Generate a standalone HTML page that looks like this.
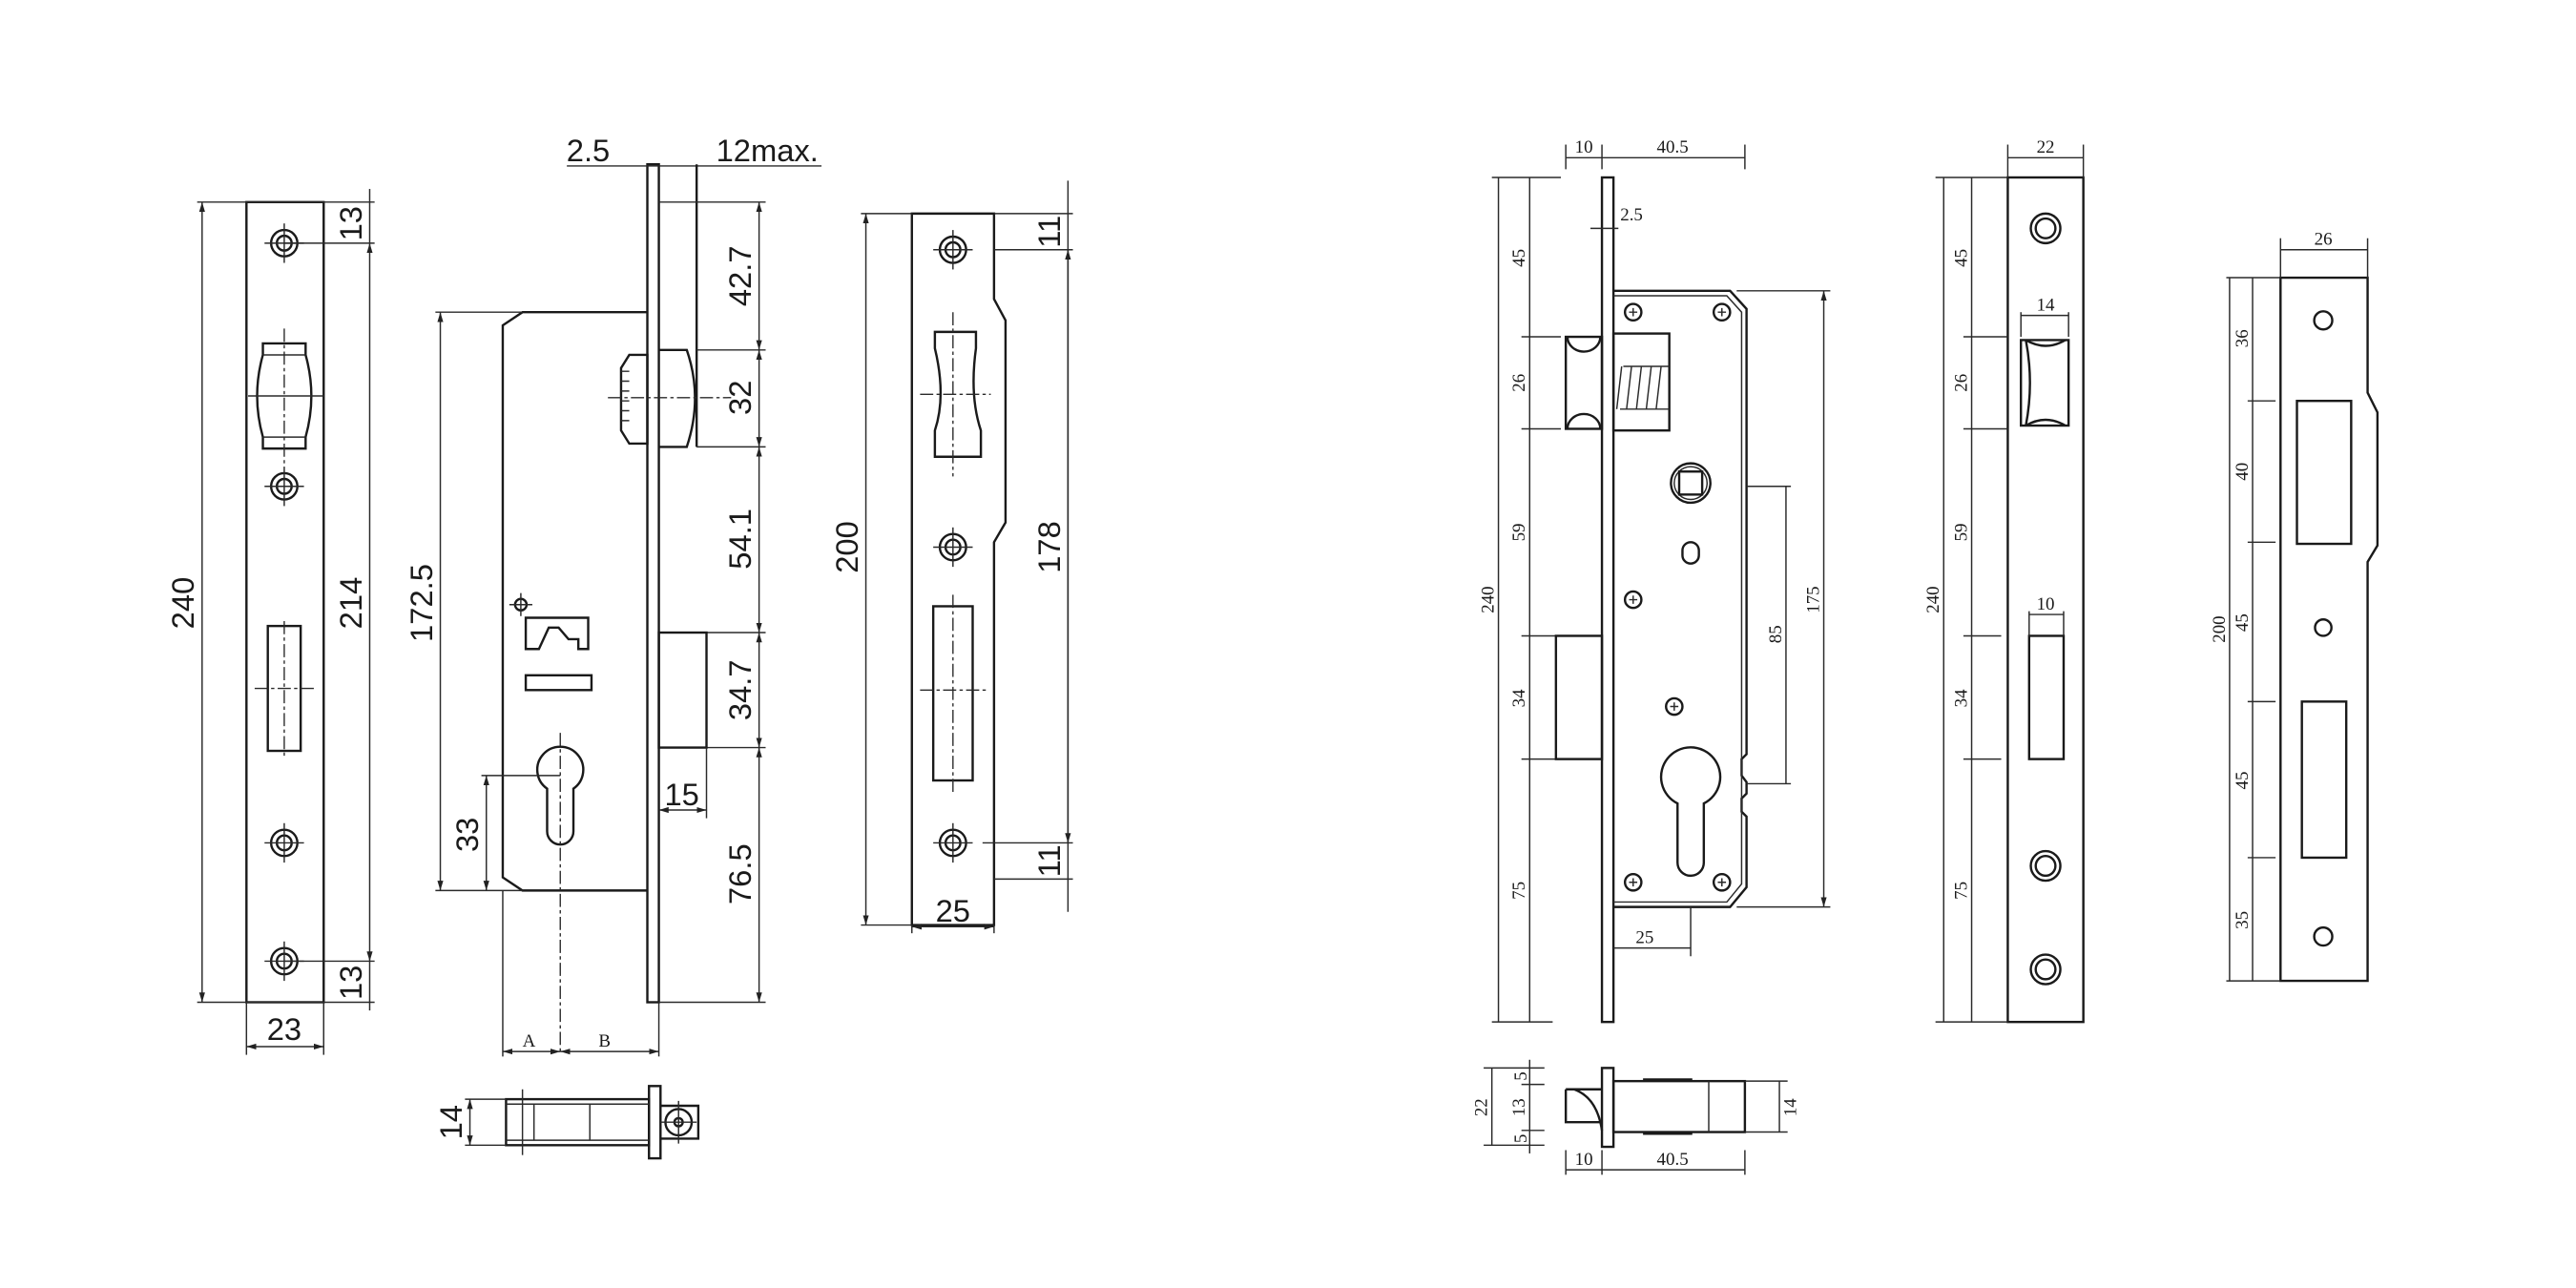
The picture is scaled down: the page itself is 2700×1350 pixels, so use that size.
<!DOCTYPE html>
<html><head><meta charset="utf-8"><style>
html,body{margin:0;padding:0;background:#fff;}
svg{display:block}
.l{stroke:#1a1a1a;stroke-width:1.4;fill:none}
.t{stroke:#2a2a2a;stroke-width:0.85;fill:none}
.c{stroke:#2a2a2a;stroke-width:0.8;fill:none;stroke-dasharray:8 2 2 2}
.a{font-family:"Liberation Sans",sans-serif;font-size:19px;fill:#1a1a1a}
.s{font-family:"Liberation Serif",serif;font-size:11px;fill:#1a1a1a}
</style></head><body>
<svg width="2700" height="1350" viewBox="0 0 1560 780" xmlns="http://www.w3.org/2000/svg">
<defs>
<marker id="ar" viewBox="0 0 10 10" refX="10" refY="5" markerWidth="7" markerHeight="7" orient="auto-start-reverse"><path d="M0,2 L10,5 L0,8 z" fill="#222"/></marker>
<g id="scr"><circle r="8" class="l"/><circle r="4.5" class="l"/><line x1="-12" y1="0" x2="12" y2="0" class="t"/><line x1="0" y1="-12" x2="0" y2="12" class="t"/></g>
<g id="ps"><circle r="5" class="l"/><path d="M-2.5,0H2.5M0,-2.5V2.5" class="t" stroke-width="1.2"/></g>
</defs>
<g transform="scale(0.995)">
<!-- ===== Drawing A ===== -->
<rect x="150" y="123" width="47" height="487" class="l"/>
<line x1="120" y1="123" x2="228" y2="123" class="t"/>
<line x1="120" y1="610" x2="228" y2="610" class="t"/>
<line x1="123" y1="123" x2="123" y2="610" class="t" marker-start="url(#ar)" marker-end="url(#ar)"/>
<text class="a" transform="translate(123,367) rotate(-90)" text-anchor="middle" dy="-5">240</text>
<line x1="225" y1="148" x2="225" y2="585" class="t" marker-start="url(#ar)" marker-end="url(#ar)"/>
<line x1="225" y1="115" x2="225" y2="148" class="t"/>
<line x1="225" y1="585" x2="225" y2="615" class="t"/>
<line x1="173" y1="148" x2="228" y2="148" class="t"/>
<line x1="173" y1="585" x2="228" y2="585" class="t"/>
<text class="a" transform="translate(225,367) rotate(-90)" text-anchor="middle" dy="-5">214</text>
<text class="a" transform="translate(225,136) rotate(-90)" text-anchor="middle" dy="-5">13</text>
<text class="a" transform="translate(225,598) rotate(-90)" text-anchor="middle" dy="-5">13</text>
<use href="#scr" x="173" y="148"/>
<use href="#scr" x="173" y="296"/>
<use href="#scr" x="173" y="513"/>
<use href="#scr" x="173" y="585"/>
<path d="M160,209H186V216Q193,241 186,266V273H160V266Q153,241 160,216Z" class="l"/>
<line x1="160" y1="216" x2="186" y2="216" class="t"/><line x1="160" y1="266" x2="186" y2="266" class="t"/>
<line x1="151" y1="241" x2="197" y2="241" class="t"/>
<line x1="173" y1="200" x2="173" y2="282" class="c"/>
<rect x="163" y="381" width="20" height="76" class="l"/>
<line x1="173" y1="378" x2="173" y2="460" class="c"/><line x1="155" y1="419" x2="192" y2="419" class="c"/>
<line x1="150" y1="610" x2="150" y2="642" class="t"/><line x1="197" y1="610" x2="197" y2="642" class="t"/>
<line x1="150" y1="637" x2="197" y2="637" class="t" marker-start="url(#ar)" marker-end="url(#ar)"/>
<text class="a" x="173" y="633" text-anchor="middle">23</text>

<!-- ===== Drawing B ===== -->
<rect x="394" y="100" width="7" height="510" class="l"/>
<line x1="345" y1="101" x2="500" y2="101" class="t"/>
<text class="a" x="358" y="98" text-anchor="middle">2.5</text>
<text class="a" x="467" y="98" text-anchor="middle">12max.</text>
<line x1="424" y1="100" x2="424" y2="272" class="l"/>
<line x1="401" y1="123" x2="466" y2="123" class="t"/>
<line x1="424" y1="213" x2="466" y2="213" class="t"/>
<line x1="424" y1="272" x2="466" y2="272" class="t"/>
<line x1="430" y1="385" x2="466" y2="385" class="t"/>
<line x1="430" y1="455" x2="466" y2="455" class="t"/>
<line x1="401" y1="610" x2="466" y2="610" class="t"/>
<line x1="462" y1="123" x2="462" y2="213" class="t" marker-start="url(#ar)" marker-end="url(#ar)"/>
<line x1="462" y1="213" x2="462" y2="272" class="t" marker-start="url(#ar)" marker-end="url(#ar)"/>
<line x1="462" y1="272" x2="462" y2="385" class="t" marker-start="url(#ar)" marker-end="url(#ar)"/>
<line x1="462" y1="385" x2="462" y2="455" class="t" marker-start="url(#ar)" marker-end="url(#ar)"/>
<line x1="462" y1="455" x2="462" y2="610" class="t" marker-start="url(#ar)" marker-end="url(#ar)"/>
<text class="a" transform="translate(462,168) rotate(-90)" text-anchor="middle" dy="-5">42.7</text>
<text class="a" transform="translate(462,242) rotate(-90)" text-anchor="middle" dy="-5">32</text>
<text class="a" transform="translate(462,328) rotate(-90)" text-anchor="middle" dy="-5">54.1</text>
<text class="a" transform="translate(462,420) rotate(-90)" text-anchor="middle" dy="-5">34.7</text>
<text class="a" transform="translate(462,532) rotate(-90)" text-anchor="middle" dy="-5">76.5</text>
<path d="M394,190H318L306,198V534L318,542H394" class="l"/>
<line x1="265" y1="190" x2="318" y2="190" class="t"/>
<line x1="265" y1="542" x2="318" y2="542" class="t"/>
<line x1="268" y1="190" x2="268" y2="542" class="t" marker-start="url(#ar)" marker-end="url(#ar)"/>
<text class="a" transform="translate(268,367) rotate(-90)" text-anchor="middle" dy="-5">172.5</text>
<path d="M383,216H394V270H383L378,262V224Z" class="l"/>
<path d="M378,226H383M378,232H383M378,238H383M378,244H383M378,250H383M378,256H383" class="t"/>
<path d="M401,213H418Q428,242 418,272H401" class="l"/>
<line x1="370" y1="242" x2="445" y2="242" class="c"/>
<rect x="401" y="385" width="29" height="70" class="l"/>
<line x1="430" y1="455" x2="430" y2="498" class="t"/>
<line x1="401" y1="493" x2="430" y2="493" class="t" marker-start="url(#ar)" marker-end="url(#ar)"/>
<text class="a" x="415" y="490" text-anchor="middle">15</text>
<path d="M333,480A14,14 0 1 1 349,480V506A8,8 0 0 1 333,506Z" class="l"/>
<line x1="341" y1="446" x2="341" y2="640" class="c"/>
<line x1="293" y1="472" x2="341" y2="472" class="t"/>
<line x1="296" y1="472" x2="296" y2="542" class="t" marker-start="url(#ar)" marker-end="url(#ar)"/>
<text class="a" transform="translate(296,508) rotate(-90)" text-anchor="middle" dy="-5">33</text>
<circle cx="317" cy="368" r="3.5" class="l"/><path d="M310,368H324M317,361V375" class="t"/>
<path d="M320,376H358V395H352V389H346L340,382H334L328,395H320Z" class="l"/>
<rect x="320" y="411" width="40" height="9" class="l"/>
<line x1="306" y1="542" x2="306" y2="643" class="t"/>
<line x1="401" y1="610" x2="401" y2="643" class="t"/>
<line x1="306" y1="640" x2="341" y2="640" class="t" marker-start="url(#ar)" marker-end="url(#ar)"/>
<line x1="341" y1="640" x2="401" y2="640" class="t" marker-start="url(#ar)" marker-end="url(#ar)"/>
<text class="s" x="322" y="637" text-anchor="middle" font-size="14">A</text>
<text class="s" x="368" y="637" text-anchor="middle" font-size="14">B</text>
<rect x="395" y="661" width="7" height="44" class="l"/>
<rect x="308" y="669" width="87" height="28" class="l"/>
<line x1="308" y1="672" x2="395" y2="672" class="t"/><line x1="308" y1="694" x2="395" y2="694" class="t"/>
<line x1="318" y1="663" x2="318" y2="703" class="t"/><line x1="325" y1="672" x2="325" y2="694" class="t"/>
<line x1="359" y1="672" x2="359" y2="694" class="t"/>
<path d="M402,673H425V693H402" class="l"/>
<circle cx="413" cy="683" r="8" class="l"/><circle cx="413" cy="683" r="2.5" class="l"/>
<path d="M402,683H424M413,670V696" class="t"/>
<line x1="283" y1="669" x2="308" y2="669" class="t"/><line x1="283" y1="697" x2="308" y2="697" class="t"/>
<line x1="286" y1="669" x2="286" y2="697" class="t" marker-start="url(#ar)" marker-end="url(#ar)"/>
<text class="a" transform="translate(286,683) rotate(-90)" text-anchor="middle" dy="-5">14</text>

<!-- ===== Drawing C ===== -->
<path d="M555,130H605V182L612,195V318L605,330V563H555Z" class="l"/>
<line x1="524" y1="130" x2="555" y2="130" class="t"/>
<line x1="524" y1="563" x2="555" y2="563" class="t"/>
<line x1="527" y1="130" x2="527" y2="563" class="t" marker-start="url(#ar)" marker-end="url(#ar)"/>
<text class="a" transform="translate(527,333) rotate(-90)" text-anchor="middle" dy="-5">200</text>
<line x1="650" y1="110" x2="650" y2="555" class="t"/>
<line x1="650" y1="152" x2="650" y2="513" class="t" marker-start="url(#ar)" marker-end="url(#ar)"/>
<line x1="605" y1="130" x2="653" y2="130" class="t"/>
<line x1="605" y1="152" x2="653" y2="152" class="t"/>
<line x1="598" y1="513" x2="653" y2="513" class="t"/>
<line x1="605" y1="535" x2="653" y2="535" class="t"/>
<text class="a" transform="translate(650,333) rotate(-90)" text-anchor="middle" dy="-5">178</text>
<text class="a" transform="translate(650,141) rotate(-90)" text-anchor="middle" dy="-5">11</text>
<text class="a" transform="translate(650,524) rotate(-90)" text-anchor="middle" dy="-5">11</text>
<use href="#scr" x="580" y="152"/>
<use href="#scr" x="580" y="333"/>
<use href="#scr" x="580" y="513"/>
<path d="M569,202H594V212Q590,241 597,262V278H569V262Q576,241 569,212Z" class="l"/>
<line x1="560" y1="240" x2="603" y2="240" class="c"/>
<line x1="580" y1="190" x2="580" y2="290" class="c"/>
<rect x="568" y="369" width="24" height="106" class="l"/>
<line x1="580" y1="362" x2="580" y2="482" class="c"/><line x1="560" y1="420" x2="600" y2="420" class="c"/>
<line x1="555" y1="563" x2="555" y2="568" class="t"/><line x1="605" y1="563" x2="605" y2="568" class="t"/>
<line x1="555" y1="564" x2="605" y2="564" class="t" marker-start="url(#ar)" marker-end="url(#ar)"/>
<text class="a" x="580" y="561" text-anchor="middle">25</text>

<!-- ===== Drawing D1 ===== -->
<g>
<line x1="912" y1="108" x2="912" y2="622" class="t"/>
<line x1="931" y1="108" x2="931" y2="622" class="t"/>
<line x1="908" y1="108" x2="950" y2="108" class="t"/>
<line x1="908" y1="622" x2="945" y2="622" class="t"/>
<line x1="926" y1="205" x2="950" y2="205" class="t"/>
<line x1="926" y1="261" x2="950" y2="261" class="t"/>
<line x1="926" y1="387" x2="947" y2="387" class="t"/>
<line x1="926" y1="462" x2="947" y2="462" class="t"/>
<text class="s" transform="translate(912,365) rotate(-90)" text-anchor="middle" dy="-3">240</text>
<text class="s" transform="translate(931,157) rotate(-90)" text-anchor="middle" dy="-3">45</text>
<text class="s" transform="translate(931,233) rotate(-90)" text-anchor="middle" dy="-3">26</text>
<text class="s" transform="translate(931,324) rotate(-90)" text-anchor="middle" dy="-3">59</text>
<text class="s" transform="translate(931,425) rotate(-90)" text-anchor="middle" dy="-3">34</text>
<text class="s" transform="translate(931,542) rotate(-90)" text-anchor="middle" dy="-3">75</text>
<rect x="975" y="108" width="7" height="514" class="l"/>
<line x1="953" y1="88" x2="953" y2="103" class="t"/>
<line x1="975" y1="88" x2="975" y2="103" class="t"/>
<line x1="1062" y1="88" x2="1062" y2="103" class="t"/>
<line x1="953" y1="96" x2="1062" y2="96" class="t"/>
<text class="s" x="964" y="93" text-anchor="middle">10</text>
<text class="s" x="1018" y="93" text-anchor="middle">40.5</text>
<line x1="968" y1="139" x2="985" y2="139" class="t"/>
<text class="s" x="993" y="134" text-anchor="middle">2.5</text>
<path d="M982,177H1053L1063,188V459L1060,462V472L1063,476V483L1060,486V494L1063,497V540L1053,552H982" class="l"/>
<path d="M982,180H1051L1060,190V538L1051,549H982" class="t"/>
<line x1="1057" y1="177" x2="1114" y2="177" class="t"/>
<line x1="1057" y1="552" x2="1114" y2="552" class="t"/>
<line x1="1110" y1="177" x2="1110" y2="552" class="t" marker-start="url(#ar)" marker-end="url(#ar)"/>
<text class="s" transform="translate(1110,365) rotate(-90)" text-anchor="middle" dy="-3">175</text>
<line x1="1063" y1="296" x2="1090" y2="296" class="t"/>
<line x1="1063" y1="477" x2="1090" y2="477" class="t"/>
<line x1="1087" y1="296" x2="1087" y2="477" class="t"/>
<text class="s" transform="translate(1087,386) rotate(-90)" text-anchor="middle" dy="-3">85</text>
<rect x="953" y="205" width="22" height="56" class="l"/>
<path d="M954,205A10,9 0 0 0 974,205M954,261A10,9 0 0 1 974,261" class="l"/>
<rect x="982" y="203" width="34" height="59" class="l"/>
<path d="M984,249L987,223M990,249L993,223M996,249L999,223M1002,249L1005,223M1008,249L1011,223M986,249H1016M988,223H1016" class="t"/>
<circle cx="1029" cy="294" r="12" class="l"/><circle cx="1029" cy="294" r="10" class="t"/>
<rect x="1022" y="287" width="14" height="14" class="l"/>
<rect x="1024" y="330" width="10" height="13" rx="5" class="l"/>
<use href="#ps" x="994" y="190"/><use href="#ps" x="1048" y="190"/>
<use href="#ps" x="994" y="365"/><use href="#ps" x="1019" y="430"/>
<use href="#ps" x="994" y="537"/><use href="#ps" x="1048" y="537"/>
<rect x="947" y="387" width="28" height="75" class="l"/>
<path d="M1021,489A18,18 0 1 1 1037,489V525A8,8 0 0 1 1021,525Z" class="l"/>
<line x1="1029" y1="552" x2="1029" y2="582" class="t"/>
<line x1="982" y1="577" x2="1029" y2="577" class="t"/>
<text class="s" x="1001" y="574" text-anchor="middle">25</text>
<rect x="975" y="650" width="7" height="48" class="l"/>
<rect x="982" y="658" width="80" height="31" class="l"/>
<line x1="1040" y1="658" x2="1040" y2="689" class="t"/>
<line x1="1000" y1="657" x2="1030" y2="657" class="l"/><line x1="1000" y1="690" x2="1030" y2="690" class="l"/>
<path d="M953,663H975M953,663V683H975M958,663Q972,668 975,688" class="l"/>
<line x1="908" y1="650" x2="908" y2="697" class="t"/>
<line x1="931" y1="645" x2="931" y2="702" class="t"/>
<line x1="903" y1="650" x2="940" y2="650" class="t"/>
<line x1="926" y1="660" x2="940" y2="660" class="t"/>
<line x1="926" y1="688" x2="940" y2="688" class="t"/>
<line x1="903" y1="697" x2="940" y2="697" class="t"/>
<text class="s" transform="translate(908,674) rotate(-90)" text-anchor="middle" dy="-3">22</text>
<text class="s" transform="translate(931,655) rotate(-90)" text-anchor="middle" dy="-2" font-size="9">5</text>
<text class="s" transform="translate(931,674) rotate(-90)" text-anchor="middle" dy="-3">13</text>
<text class="s" transform="translate(931,693) rotate(-90)" text-anchor="middle" dy="-2" font-size="9">5</text>
<line x1="1062" y1="658" x2="1088" y2="658" class="t"/><line x1="1062" y1="689" x2="1088" y2="689" class="t"/>
<line x1="1083" y1="658" x2="1083" y2="689" class="t"/>
<text class="s" transform="translate(1083,674) rotate(-90)" text-anchor="middle" dy="10">14</text>
<line x1="953" y1="700" x2="953" y2="715" class="t"/><line x1="975" y1="700" x2="975" y2="715" class="t"/><line x1="1062" y1="700" x2="1062" y2="715" class="t"/>
<line x1="953" y1="712" x2="1062" y2="712" class="t"/>
<text class="s" x="964" y="709" text-anchor="middle">10</text>
<text class="s" x="1018" y="709" text-anchor="middle">40.5</text>
</g>

<!-- ===== Drawing D2 ===== -->
<g>
<rect x="1222" y="108" width="46" height="514" class="l"/>
<line x1="1183" y1="108" x2="1183" y2="622" class="t"/>
<line x1="1200" y1="108" x2="1200" y2="622" class="t"/>
<line x1="1178" y1="108" x2="1222" y2="108" class="t"/>
<line x1="1178" y1="622" x2="1222" y2="622" class="t"/>
<line x1="1195" y1="205" x2="1222" y2="205" class="t"/>
<line x1="1195" y1="261" x2="1222" y2="261" class="t"/>
<line x1="1195" y1="387" x2="1218" y2="387" class="t"/>
<line x1="1195" y1="462" x2="1218" y2="462" class="t"/>
<text class="s" transform="translate(1183,365) rotate(-90)" text-anchor="middle" dy="-3">240</text>
<text class="s" transform="translate(1200,157) rotate(-90)" text-anchor="middle" dy="-3">45</text>
<text class="s" transform="translate(1200,233) rotate(-90)" text-anchor="middle" dy="-3">26</text>
<text class="s" transform="translate(1200,324) rotate(-90)" text-anchor="middle" dy="-3">59</text>
<text class="s" transform="translate(1200,425) rotate(-90)" text-anchor="middle" dy="-3">34</text>
<text class="s" transform="translate(1200,542) rotate(-90)" text-anchor="middle" dy="-3">75</text>
<line x1="1222" y1="88" x2="1222" y2="108" class="t"/><line x1="1268" y1="88" x2="1268" y2="108" class="t"/>
<line x1="1222" y1="96" x2="1268" y2="96" class="t"/>
<text class="s" x="1245" y="93" text-anchor="middle">22</text>
<circle cx="1245" cy="139" r="9" class="l"/><circle cx="1245" cy="139" r="6" class="l"/>
<circle cx="1245" cy="527" r="9" class="l"/><circle cx="1245" cy="527" r="6" class="l"/>
<circle cx="1245" cy="590" r="9" class="l"/><circle cx="1245" cy="590" r="6" class="l"/>
<path d="M1230,207H1259V259H1230Z" class="l"/>
<path d="M1233,207Q1238,233 1233,259M1233,207Q1245,214 1257,207M1233,259Q1245,252 1257,259" class="l"/>
<line x1="1230" y1="190" x2="1230" y2="205" class="t"/><line x1="1259" y1="190" x2="1259" y2="205" class="t"/>
<line x1="1230" y1="192" x2="1259" y2="192" class="t"/>
<text class="s" x="1245" y="189" text-anchor="middle">14</text>
<rect x="1235" y="387" width="21" height="75" class="l"/>
<line x1="1235" y1="372" x2="1235" y2="387" class="t"/><line x1="1256" y1="372" x2="1256" y2="387" class="t"/>
<line x1="1235" y1="374" x2="1256" y2="374" class="t"/>
<text class="s" x="1245" y="371" text-anchor="middle">10</text>
</g>

<!-- ===== Drawing D3 ===== -->
<g>
<path d="M1388,169H1441V239L1447,251V332L1441,342V597H1388Z" class="l"/>
<line x1="1355" y1="169" x2="1388" y2="169" class="t"/>
<line x1="1355" y1="597" x2="1388" y2="597" class="t"/>
<line x1="1357" y1="169" x2="1357" y2="597" class="t"/>
<line x1="1371" y1="169" x2="1371" y2="597" class="t"/>
<line x1="1368" y1="244" x2="1385" y2="244" class="t"/>
<line x1="1368" y1="330" x2="1385" y2="330" class="t"/>
<line x1="1368" y1="427" x2="1385" y2="427" class="t"/>
<line x1="1368" y1="522" x2="1385" y2="522" class="t"/>
<text class="s" transform="translate(1357,383) rotate(-90)" text-anchor="middle" dy="-3">200</text>
<text class="s" transform="translate(1371,206) rotate(-90)" text-anchor="middle" dy="-3">36</text>
<text class="s" transform="translate(1371,287) rotate(-90)" text-anchor="middle" dy="-3">40</text>
<text class="s" transform="translate(1371,379) rotate(-90)" text-anchor="middle" dy="-3">45</text>
<text class="s" transform="translate(1371,475) rotate(-90)" text-anchor="middle" dy="-3">45</text>
<text class="s" transform="translate(1371,560) rotate(-90)" text-anchor="middle" dy="-3">35</text>
<line x1="1388" y1="145" x2="1388" y2="169" class="t"/><line x1="1441" y1="145" x2="1441" y2="169" class="t"/>
<line x1="1388" y1="152" x2="1441" y2="152" class="t"/>
<text class="s" x="1414" y="149" text-anchor="middle">26</text>
<circle cx="1414" cy="195" r="5.5" class="l" stroke-width="1.8"/>
<circle cx="1414" cy="382" r="5" class="l"/>
<circle cx="1414" cy="570" r="5.5" class="l" stroke-width="1.8"/>
<rect x="1398" y="244" width="33" height="87" class="l"/>
<rect x="1401" y="427" width="27" height="95" class="l"/>
</g>
</g>
</svg>
</body></html>
